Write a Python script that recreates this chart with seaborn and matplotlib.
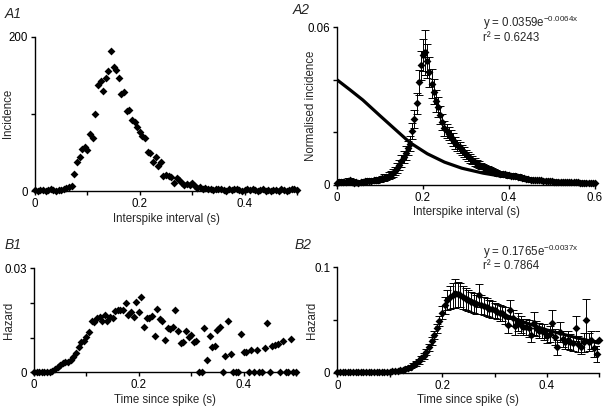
import numpy as np
import pandas as pd
import matplotlib
matplotlib.use('Agg')
import matplotlib.pyplot as plt
import seaborn as sns

# bin grid (5 ms bins)
bin_width = 0.005

# A1: interspike interval histogram, one cell (counts per bin, 0 - 0.5 s)
a1_counts = [1, 0, 1, 1, 0, 1, 2, 1, 0, 1, 1,
             2, 4, 5, 6, 22, 38, 44, 55, 57, 53,
             74, 69, 100, 137, 142, 130, 146, 155, 182, 161,
             157, 146, 126, 128, 104, 105, 92, 90, 83, 76,
             71, 69, 50, 49, 38, 44, 32, 37, 20, 21,
             19, 18, 11, 17, 14, 11, 8, 9, 8, 10,
             6, 4, 5, 3, 4, 2, 3, 1, 3, 2,
             2, 1, 0, 2, 1, 3, 2, 1, 0, 1, 2, 1, 3, 1, 0,
             1, 2, 0, 1, 0, 1, 1, 0, 2, 1, 0, 1, 2, 3, 1]

# A2: normalised ISI histogram, population mean and SEM (0 - 0.6 s)
a2_mean = [0.0008, 0.0010, 0.0012, 0.0009, 0.0011, 0.0015, 0.0016, 0.0012, 0.0008, 0.0010,
           0.0007, 0.0009, 0.0011, 0.0014, 0.0013, 0.0015, 0.0014, 0.0017, 0.0016, 0.0019,
           0.0021, 0.0024, 0.0027, 0.0030, 0.0034, 0.0039, 0.0045, 0.0053, 0.0064, 0.0076,
           0.0090, 0.0105, 0.0122, 0.0140, 0.0157, 0.0205, 0.0250, 0.0310, 0.0390, 0.0455,
           0.0495, 0.0505, 0.0470, 0.0430, 0.0385, 0.0355, 0.0320, 0.0295, 0.0265, 0.0240,
           0.0215, 0.0205, 0.0195, 0.0183, 0.0172, 0.0160, 0.0150, 0.0142, 0.0132, 0.0124,
           0.0116, 0.0108, 0.0100, 0.0094, 0.0088, 0.0082, 0.0076, 0.0071, 0.0066, 0.0062,
           0.0058, 0.0055, 0.0052, 0.0049, 0.0046, 0.0044, 0.0042, 0.0040, 0.0039, 0.0037,
           0.0036, 0.0035, 0.0034, 0.0033, 0.0031, 0.0029, 0.0027, 0.0025, 0.0023, 0.0021,
           0.0019, 0.0018, 0.0018, 0.0017, 0.0016, 0.0016, 0.0015, 0.0014, 0.0014, 0.0013,
           0.0013, 0.0012, 0.0012, 0.0011, 0.0011, 0.0011, 0.0010, 0.0010, 0.0010, 0.0009,
           0.0009, 0.0009, 0.0009, 0.0008, 0.0008, 0.0008, 0.0008, 0.0007, 0.0007, 0.0007,
           0.0007]
a2_sem = [0.0006, 0.0008, 0.0009, 0.0007, 0.0008, 0.0010, 0.0011, 0.0008, 0.0006, 0.0007,
          0.0006, 0.0007, 0.0008, 0.0009, 0.0008, 0.0009, 0.0008, 0.0010, 0.0009, 0.0010,
          0.0010, 0.0011, 0.0012, 0.0012, 0.0013, 0.0014, 0.0015, 0.0016, 0.0018, 0.0020,
          0.0022, 0.0024, 0.0026, 0.0028, 0.0030, 0.0032, 0.0035, 0.0040, 0.0048, 0.0055,
          0.0060, 0.0085, 0.0065, 0.0058, 0.0055, 0.0048, 0.0042, 0.0038, 0.0034, 0.0030,
          0.0028, 0.0027, 0.0026, 0.0025, 0.0024, 0.0023, 0.0022, 0.0021, 0.0020, 0.0019,
          0.0018, 0.0017, 0.0016, 0.0015, 0.0015, 0.0014, 0.0014, 0.0013, 0.0013, 0.0012,
          0.0012, 0.0011, 0.0011, 0.0011, 0.0010, 0.0010, 0.0010, 0.0010, 0.0009, 0.0009,
          0.0009, 0.0009, 0.0009, 0.0008, 0.0008, 0.0008, 0.0008, 0.0008, 0.0008, 0.0007,
          0.0007, 0.0007, 0.0007, 0.0007, 0.0007, 0.0006, 0.0006, 0.0006, 0.0006, 0.0006,
          0.0006, 0.0006, 0.0006, 0.0006, 0.0005, 0.0005, 0.0005, 0.0005, 0.0005, 0.0005,
          0.0005, 0.0005, 0.0005, 0.0005, 0.0005, 0.0005, 0.0004, 0.0004, 0.0004, 0.0004,
          0.0004]
a2_fit_x = [0.0, 0.03, 0.06, 0.10, 0.14, 0.17, 0.21, 0.25, 0.29, 0.34, 0.38, 0.45, 0.52, 0.60]
a2_fit_y = [0.0400, 0.0362, 0.0323, 0.0263, 0.0204, 0.0160, 0.0118, 0.0086, 0.0063, 0.0044,
            0.0033, 0.0021, 0.0013, 0.0008]

# B1: hazard, one cell (0 - 0.5 s)
b1_hazard = [0, 0, 0, 0.0001, 0.0001, 0.0002, 0.0002, 0.0004, 0.0009, 0.0016,
             0.0022, 0.0026, 0.0030, 0.0029, 0.0036, 0.0044, 0.0056, 0.0074, 0.0087, 0.0090,
             0.0103, 0.0117, 0.0149, 0.0144, 0.0156, 0.0159, 0.0149, 0.0165, 0.0149, 0.0159,
             0.0156, 0.0178, 0.0180, 0.0180, 0.0179, 0.0199, 0.0165, 0.0175, 0.0160, 0.0204,
             0.0175, 0.0218, 0.0131, 0.0156, 0.0156, 0.0161, 0.0104, 0.0182, 0.0154, 0.0147,
             0.0093, 0.0127, 0.0124, 0.0131, 0.0180, 0.0120, 0.0085, 0.0088, 0.0119, 0.0101,
             0.0107, 0.0088, 0.0090, 0, 0, 0.0127, 0.0034, 0.0105, 0.0074, 0.0076,
             0.0122, 0.0131, 0, 0.0047, 0.0148, 0.0052, 0, 0, 0, 0.0110,
             0.0059, 0.0059, 0, 0.0064, 0, 0.0065, 0, 0, 0.0069, 0.0143,
             0, 0.0076, 0.0079, 0.0083, 0, 0.0090, 0, 0, 0.0095, 0,
             0]

# B2: hazard, population mean and SEM (0 - 0.5 s)
b2_mean = [0.0005, 0.0008, 0.0006, 0.0007, 0.0005, 0.0006, 0.0008, 0.0007, 0.0005, 0.0006,
           0.0007, 0.0005, 0.0006, 0.0008, 0.0007, 0.0006, 0.0008, 0.0009, 0.0010, 0.0009,
           0.0011, 0.0013, 0.0015, 0.0018, 0.0022, 0.0027, 0.0035, 0.0045, 0.0058, 0.0072,
           0.0090, 0.0110, 0.0135, 0.0160, 0.0195, 0.0240, 0.0300, 0.0355, 0.0420, 0.0490,
           0.0570, 0.0640, 0.0685, 0.0715, 0.0735, 0.0750, 0.0745, 0.0735, 0.0715, 0.0700,
           0.0685, 0.0670, 0.0660, 0.0650, 0.0735, 0.0645, 0.0630, 0.0625, 0.0605, 0.0600,
           0.0590, 0.0580, 0.0570, 0.0565, 0.0540, 0.0450, 0.0595, 0.0520, 0.0440, 0.0480,
           0.0455, 0.0437, 0.0430, 0.0420, 0.0358, 0.0469, 0.0420, 0.0400, 0.0395, 0.0385,
           0.0348, 0.0365, 0.0474, 0.0340, 0.0240, 0.0390, 0.0320, 0.0294, 0.0310, 0.0294,
           0.0280, 0.0420, 0.0270, 0.0247, 0.0290, 0.0500, 0.0294, 0.0310, 0.0231, 0.0177,
           0.0310]
b2_sem = [0.0003, 0.0004, 0.0003, 0.0004, 0.0003, 0.0003, 0.0004, 0.0004, 0.0003, 0.0003,
          0.0004, 0.0003, 0.0003, 0.0004, 0.0004, 0.0003, 0.0004, 0.0005, 0.0005, 0.0005,
          0.0006, 0.0007, 0.0008, 0.0009, 0.0010, 0.0012, 0.0014, 0.0016, 0.0018, 0.0020,
          0.0022, 0.0024, 0.0026, 0.0028, 0.0030, 0.0033, 0.0036, 0.0040, 0.0045, 0.0050,
          0.0060, 0.0080, 0.0095, 0.0110, 0.0120, 0.0136, 0.0120, 0.0115, 0.0110, 0.0105,
          0.0100, 0.0095, 0.0095, 0.0090, 0.0110, 0.0090, 0.0085, 0.0085, 0.0080, 0.0080,
          0.0075, 0.0075, 0.0075, 0.0070, 0.0080, 0.0070, 0.0090, 0.0075, 0.0080, 0.0085,
          0.0080, 0.0075, 0.0075, 0.0080, 0.0070, 0.0110, 0.0075, 0.0075, 0.0070, 0.0075,
          0.0070, 0.0075, 0.0120, 0.0075, 0.0070, 0.0095, 0.0080, 0.0070, 0.0085, 0.0075,
          0.0070, 0.0120, 0.0075, 0.0070, 0.0090, 0.0200, 0.0085, 0.0090, 0.0080, 0.0080,
          0.0090]
b2_fit_x = [0.225, 0.25, 0.30, 0.35, 0.40, 0.45, 0.50]
b2_fit_y = [0.0765, 0.0700, 0.0585, 0.0490, 0.0405, 0.0340, 0.0280]

a2_eq = ['y = 0.0359e$^{\\mathregular{-0.0064x}}$', 'r² = 0.6243']
b2_eq = ['y = 0.1765e$^{\\mathregular{-0.0037x}}$', 'r² = 0.7864']


def bins(values):
    return np.arange(len(values)) * bin_width


sns.set_style('ticks')
plt.rcParams['font.family'] = ['Liberation Sans', 'DejaVu Sans']
plt.rcParams['font.size'] = 8.3
plt.rcParams['axes.linewidth'] = 1.0
plt.rcParams['xtick.major.size'] = 3
plt.rcParams['ytick.major.size'] = 3
plt.rcParams['xtick.major.pad'] = 2
plt.rcParams['ytick.major.pad'] = 2

fig = plt.figure(figsize=(6.05, 4.07), dpi=100)
axA1 = fig.add_axes([0.0579, 0.5307, 0.4331, 0.3791])
axA2 = fig.add_axes([0.5570, 0.5462, 0.4265, 0.3867])
axB1 = fig.add_axes([0.0562, 0.0853, 0.4331, 0.2555])
axB2 = fig.add_axes([0.5575, 0.0843, 0.4331, 0.2590])

mk = dict(marker='D', color='black', s=16, linewidth=0, clip_on=False, zorder=3, legend=False)
eb = dict(fmt='none', ecolor='black', elinewidth=0.7, capsize=2.6, capthick=0.7, zorder=2)

# A1
sns.scatterplot(x=bins(a1_counts), y=a1_counts, ax=axA1, **mk)
axA1.set_xlim(0, 0.5)
axA1.set_ylim(0, 200)
axA1.set_xticks([0, 0.1, 0.2, 0.3, 0.4, 0.5], ['0', '', '0.2', '', '0.4', ''])
axA1.set_yticks([0, 100, 200], ['0', '', '200'])
axA1.set_xlabel('Interspike interval (s)', labelpad=2)
axA1.set_ylabel('Incidence')
axA1.yaxis.set_label_coords(-0.08, 0.5)

# A2
xa2 = bins(a2_mean)
axA2.errorbar(xa2, a2_mean, yerr=a2_sem, **eb)
sns.scatterplot(x=xa2, y=a2_mean, ax=axA2, **mk)
sns.lineplot(x=a2_fit_x, y=a2_fit_y, ax=axA2, color='black', linewidth=2.3, zorder=4)
axA2.set_xlim(0, 0.6)
axA2.set_ylim(0, 0.06)
axA2.set_xticks([0, 0.2, 0.4, 0.6], ['0', '0.2', '0.4', '0.6'])
axA2.set_yticks([0, 0.02, 0.04, 0.06], ['0', '', '', '0.06'])
axA2.set_xlabel('Interspike interval (s)', labelpad=2)
axA2.set_ylabel('Normalised incidence')
axA2.yaxis.set_label_coords(-0.078, 0.5)
axA2.text(0.565, 1.03, a2_eq[0], transform=axA2.transAxes, va='center')
axA2.text(0.565, 0.935, a2_eq[1], transform=axA2.transAxes, va='center')

# B1
sns.scatterplot(x=bins(b1_hazard), y=b1_hazard, ax=axB1, **mk)
axB1.set_xlim(0, 0.5)
axB1.set_ylim(0, 0.03)
axB1.set_xticks([0, 0.1, 0.2, 0.3, 0.4, 0.5], ['0', '', '0.2', '', '0.4', ''])
axB1.set_yticks([0, 0.01, 0.02, 0.03], ['0', '', '', '0.03'])
axB1.set_xlabel('Time since spike (s)', labelpad=2)
axB1.set_ylabel('Hazard')
axB1.yaxis.set_label_coords(-0.073, 0.5)

# B2
xb2 = bins(b2_mean)
axB2.errorbar(xb2, b2_mean, yerr=b2_sem, **eb)
sns.scatterplot(x=xb2, y=b2_mean, ax=axB2, **mk)
sns.lineplot(x=b2_fit_x, y=b2_fit_y, ax=axB2, color='black', linewidth=2.3, zorder=4)
axB2.set_xlim(0, 0.5)
axB2.set_ylim(0, 0.1)
axB2.set_xticks([0, 0.1, 0.2, 0.3, 0.4, 0.5], ['0', '', '0.2', '', '0.4', ''])
axB2.set_yticks([0, 0.05, 0.1], ['0', '', '0.1'])
axB2.set_xlabel('Time since spike (s)', labelpad=2)
axB2.set_ylabel('Hazard')
axB2.yaxis.set_label_coords(-0.074, 0.5)
axB2.text(0.555, 1.145, b2_eq[0], transform=axB2.transAxes, va='center')
axB2.text(0.555, 1.01, b2_eq[1], transform=axB2.transAxes, va='center')

for ax in (axA1, axA2, axB1, axB2):
    sns.despine(ax=ax)
    ax.tick_params(colors='black', width=1.0)
    for sp in ax.spines.values():
        sp.set_color('black')

for lab, x, y in [('A1', 5, 14), ('A2', 293, 10), ('B1', 5, 245), ('B2', 295, 245)]:
    fig.text(x / 605, 1 - y / 407, lab, fontsize=10, style='italic', va='center', ha='left')

fig.savefig('out.png', dpi=100)
